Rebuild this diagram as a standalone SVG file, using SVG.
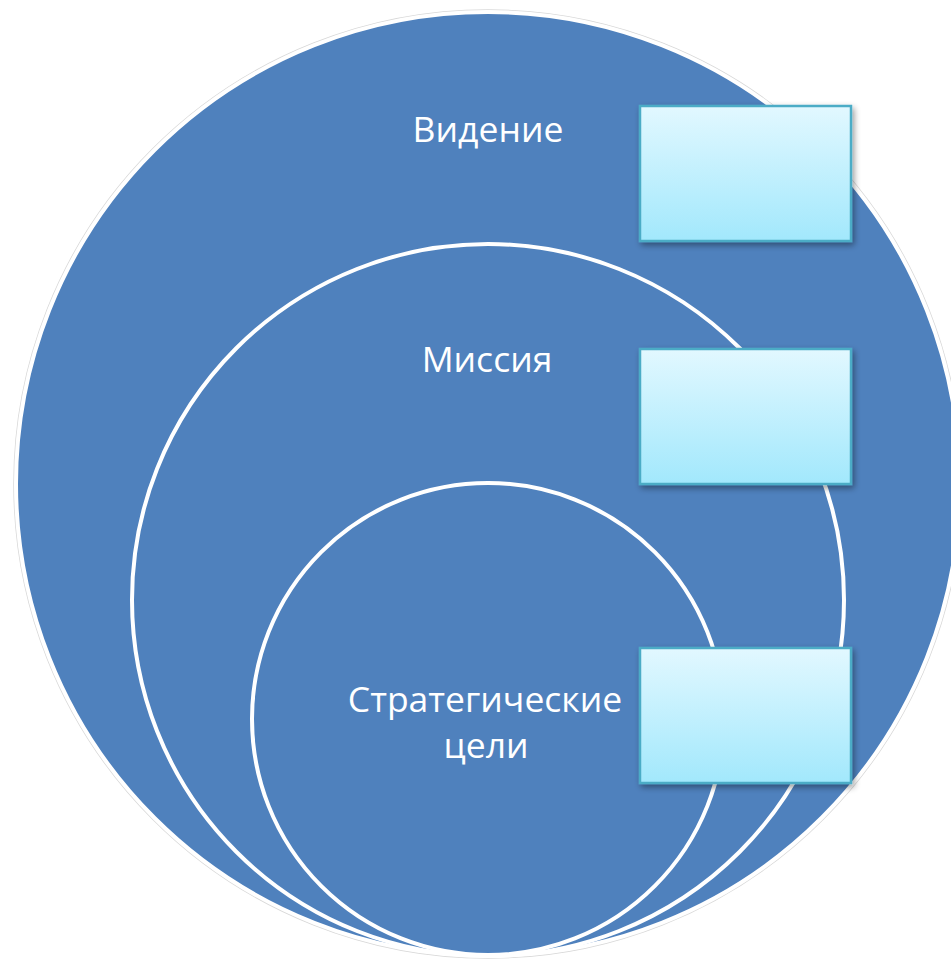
<svg xmlns="http://www.w3.org/2000/svg" width="951" height="960" viewBox="0 0 951 960">
<defs>
<linearGradient id="boxg" x1="0" y1="0" x2="0" y2="1">
<stop offset="0" stop-color="#E2F8FF"/>
<stop offset="1" stop-color="#A2E8FC"/>
</linearGradient>
<filter id="sh" x="-10%" y="-10%" width="130%" height="130%">
<feGaussianBlur in="SourceAlpha" stdDeviation="3"/>
<feOffset dx="2" dy="3" result="b"/>
<feComponentTransfer><feFuncA type="linear" slope="0.4"/></feComponentTransfer>
<feMerge><feMergeNode/><feMergeNode in="SourceGraphic"/></feMerge>
</filter>
</defs>
<style>
.ring{fill:#4F81BD;stroke:#FFFFFF;stroke-width:4}
.box{fill:url(#boxg);stroke:#4BACC6;stroke-width:2.5;filter:url(#sh)}
.lbl{fill:#FFFFFF;font-family:"Open Sans","Noto Sans","Liberation Sans",sans-serif;font-size:35.5px;font-weight:500;text-anchor:middle}
</style>
<rect width="951" height="960" fill="#FFFFFF"/>
<g id="vision">
<circle cx="488" cy="484" r="474" fill="none" stroke="#D8D8D8" stroke-width="1.5"/>
<circle class="ring" cx="488" cy="484" r="472"/>
<text class="lbl" x="488" y="142">Видение</text>
</g>
<g id="mission">
<circle class="ring" cx="488" cy="600" r="356"/>
<text class="lbl" x="487" y="372">Миссия</text>
</g>
<g id="goals">
<circle class="ring" cx="488" cy="719" r="236"/>
<text class="lbl" x="485" y="712">Стратегические</text>
<text class="lbl" x="486" y="758">цели</text>
</g>
<g id="box1"><rect class="box" x="640" y="106" width="211" height="135"/></g>
<g id="box2"><rect class="box" x="640" y="349" width="211" height="135"/></g>
<g id="box3"><rect class="box" x="640" y="648" width="211" height="135"/></g>
<g id="connectors"></g>
</svg>
